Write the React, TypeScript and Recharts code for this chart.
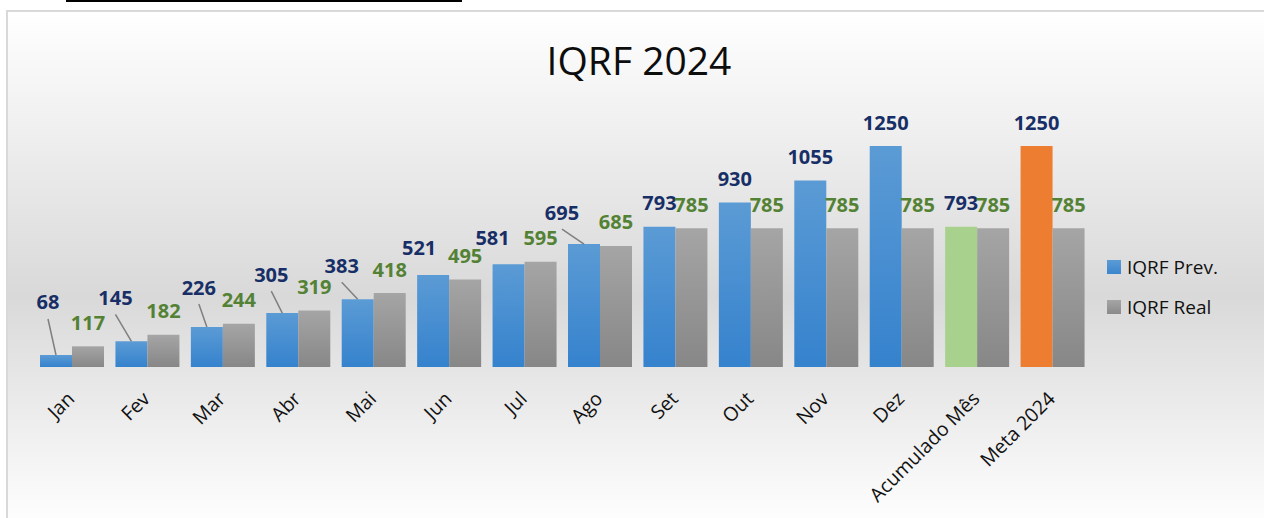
import React from 'react';
import { BarChart, Bar, XAxis, YAxis, Legend, LabelList, Cell } from 'recharts';

const months = ['Jan', 'Fev', 'Mar', 'Abr', 'Mai', 'Jun', 'Jul', 'Ago', 'Set', 'Out', 'Nov', 'Dez', 'Acumulado Mês', 'Meta 2024'];
const iqrfPrev = [68, 145, 226, 305, 383, 521, 581, 695, 793, 930, 1055, 1250, 793, 1250];
const iqrfReal = [117, 182, 244, 319, 418, 495, 595, 685, 785, 785, 785, 785, 785, 785];

// the first Prev. labels were dragged off their bars in the original sheet (dx, dy)
const prevLabelNudge = [[-8, -29], [-16, -20], [-8, -16], [-11, -15], [-16, -10], [-14, -3], [-16, -3], [-22, -8]];

const data = months.map((m, i) => ({ name: m, prev: iqrfPrev[i], real: iqrfReal[i] }));

const font = '"Open Sans", sans-serif';

const prevFill = (name: string) =>
  name === 'Acumulado Mês' ? '#a9d18e' : name === 'Meta 2024' ? '#ed7d31' : 'url(#gradPrev)';

const legendSwatch: Record<string, string> = {
  'IQRF Prev.': 'linear-gradient(#5b9bd5, #3a86cf)',
  'IQRF Real': 'linear-gradient(#a5a5a5, #8a8a8a)',
};

const readBox = (p: any) => {
  const vb = p.viewBox || {};
  return {
    x: p.x ?? vb.x,
    y: p.y ?? vb.y,
    width: p.width ?? vb.width,
  };
};

const PrevLabel = (props: any) => {
  const { x, y, width } = readBox(props);
  const cx = x + width / 2;
  const [dx, dy] = prevLabelNudge[props.index] ?? [0, 0];
  const lx = cx + dx;
  const ly = y - 24 + dy;
  return (
    <g>
      {dy < -5 && <line x1={lx} y1={ly + 17} x2={cx} y2={y} stroke="#7f7f7f" strokeWidth={1.5} />}
      <text x={lx} y={ly} textAnchor="middle" dominantBaseline="central" fill="#172f66" fontWeight={700} fontSize={20} fontFamily={font}>
        {props.value}
      </text>
    </g>
  );
};

const RealLabel = (props: any) => {
  const { x, y, width } = readBox(props);
  return (
    <text x={x + width / 2} y={y - 24} textAnchor="middle" dominantBaseline="central" fill="#548235" fontWeight={700} fontSize={20} fontFamily={font}>
      {props.value}
    </text>
  );
};

const MonthTick = ({ x, y, payload }: any) => {
  const ax = x + 4;
  const ay = y + 25;
  return (
    <text x={ax} y={ay} transform={`rotate(-45 ${ax} ${ay})`} textAnchor="end" fontSize={19.5} fontFamily={font} fill="#111">
      {payload.value}
    </text>
  );
};

const LegendBox = ({ payload }: any) => (
  <div style={{ fontFamily: font, fontSize: 19, color: '#111' }}>
    {(payload || []).map((item: any) => (
      <div key={item.value} style={{ display: 'flex', alignItems: 'center', height: 40 }}>
        <span style={{ width: 14, height: 14, background: legendSwatch[item.value], marginRight: 6 }} />
        <span>{item.value}</span>
      </div>
    ))}
  </div>
);

export default function App() {
  return (
    <div style={{ position: 'absolute', left: 0, top: 0, width: 1264, height: 518, overflow: 'hidden', background: '#fff' }}>
      <div style={{ position: 'absolute', left: 66, top: 0, width: 396, height: 2, background: '#000' }} />
      <div
        style={{
          position: 'absolute',
          left: 6,
          top: 10,
          width: 1280,
          height: 520,
          border: '2px solid #d9d9d9',
          boxSizing: 'border-box',
          background: 'linear-gradient(180deg, #ffffff 0%, #d9d9d9 55%, #ffffff 100%)',
        }}
      />
      <div style={{ position: 'absolute', left: 439, top: 40, width: 400, height: 39, lineHeight: '39px', textAlign: 'center', fontFamily: font, fontSize: 39, color: '#0d0d0d' }}>
        IQRF 2024
      </div>
      <div style={{ position: 'absolute', left: 0, top: 0 }}>
        <BarChart width={1264} height={518} data={data} margin={{ top: 146, right: 174, left: 34, bottom: 31 }} barGap={0} barSize={32}>
          <defs>
            <linearGradient id="gradPrev" x1="0" y1="0" x2="0" y2="1">
              <stop offset="0%" stopColor="#5b9bd5" />
              <stop offset="100%" stopColor="#3582cd" />
            </linearGradient>
            <linearGradient id="gradReal" x1="0" y1="0" x2="0" y2="1">
              <stop offset="0%" stopColor="#a5a5a5" />
              <stop offset="100%" stopColor="#878787" />
            </linearGradient>
          </defs>
          <XAxis dataKey="name" axisLine={false} tickLine={false} interval={0} height={120} tick={<MonthTick />} />
          <YAxis hide domain={[0, 1250]} />
          <Legend
            layout="vertical"
            align="center"
            verticalAlign="middle"
            content={<LegendBox />}
            wrapperStyle={{ left: 1107, top: 247, width: 150 }}
          />
          <Bar dataKey="prev" name="IQRF Prev." fill="#5b9bd5" isAnimationActive={false}>
            {data.map((d) => (
              <Cell key={d.name} fill={prevFill(d.name)} />
            ))}
            <LabelList dataKey="prev" content={<PrevLabel />} />
          </Bar>
          <Bar dataKey="real" name="IQRF Real" fill="url(#gradReal)" isAnimationActive={false}>
            <LabelList dataKey="real" content={<RealLabel />} />
          </Bar>
        </BarChart>
      </div>
    </div>
  );
}
